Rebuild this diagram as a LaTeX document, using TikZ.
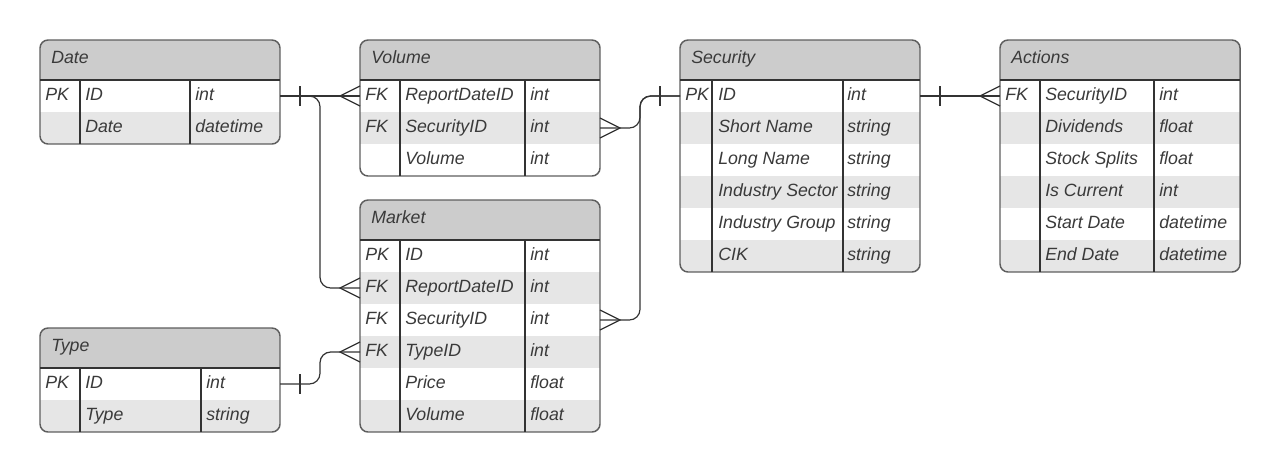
\documentclass[tikz,border=0pt]{standalone}
\usepackage{fontspec}
\setmainfont{Liberation Sans}
\usetikzlibrary{calc}

\definecolor{headfill}{HTML}{CCCCCC}
\definecolor{rowfill}{HTML}{E6E6E6}
\definecolor{boxline}{HTML}{5E5E5E}
\definecolor{inkline}{HTML}{333333}
\definecolor{inktext}{HTML}{3A3A3A}

\tikzset{
  tablebox/.style={draw=boxline, line width=1.1pt, rounded corners=6pt},
  gridline/.style={draw=inkline, line width=0.8pt},
  relation/.style={draw=inkline, line width=0.9pt},
  cell/.style={anchor=base west, inner sep=0pt, text=inktext,
    font=\fontsize{13.3}{16}\selectfont\itshape},
  title/.style={cell},
}

\begin{document}
\begin{tikzpicture}[x=0.75pt, y=-0.75pt]

\useasboundingbox (0,0) rectangle (1280,472);

% Date
\begin{scope}
  \clip[rounded corners=6pt] (40,40) rectangle (280,144);
  \fill[white] (40,40) rectangle (280,144);
  \fill[headfill] (40,40) rectangle (280,80);
  \fill[rowfill] (40,112) rectangle (280,144);
\end{scope}
\draw[tablebox] (40,40) rectangle (280,144);
\draw[gridline] (40,80) -- (280,80) (80,80) -- (80,144) (190,80) -- (190,144);
\node[title] (date) at (51,63.5) {Date};
\foreach \k/\f/\t [count=\i] in {PK/ID/int, /Date/datetime} {
  \node[cell] (date-key-\i) at (45,{68.5+32*\i}) {\k};
  \node[cell] (date-field-\i) at (85,{68.5+32*\i}) {\f};
  \node[cell] (date-type-\i) at (195,{68.5+32*\i}) {\t};
  \coordinate (date-w-\i) at (40,{64+32*\i});
  \coordinate (date-e-\i) at (280,{64+32*\i});
}

% Volume
\begin{scope}
  \clip[rounded corners=6pt] (360,40) rectangle (600,176);
  \fill[white] (360,40) rectangle (600,176);
  \fill[headfill] (360,40) rectangle (600,80);
  \fill[rowfill] (360,112) rectangle (600,144);
\end{scope}
\draw[tablebox] (360,40) rectangle (600,176);
\draw[gridline] (360,80) -- (600,80) (400,80) -- (400,176) (525,80) -- (525,176);
\node[title] (volume) at (371,63.5) {Volume};
\foreach \k/\f/\t [count=\i] in {FK/ReportDateID/int, FK/SecurityID/int, /Volume/int} {
  \node[cell] (volume-key-\i) at (365,{68.5+32*\i}) {\k};
  \node[cell] (volume-field-\i) at (405,{68.5+32*\i}) {\f};
  \node[cell] (volume-type-\i) at (530,{68.5+32*\i}) {\t};
  \coordinate (volume-w-\i) at (360,{64+32*\i});
  \coordinate (volume-e-\i) at (600,{64+32*\i});
}

% Security
\begin{scope}
  \clip[rounded corners=6pt] (680,40) rectangle (920,272);
  \fill[white] (680,40) rectangle (920,272);
  \fill[headfill] (680,40) rectangle (920,80);
  \foreach \y in {112,176,240} \fill[rowfill] (680,\y) rectangle ++(240,32);
\end{scope}
\draw[tablebox] (680,40) rectangle (920,272);
\draw[gridline] (680,80) -- (920,80) (712,80) -- (712,272) (843,80) -- (843,272);
\node[title] (security) at (691,63.5) {Security};
\foreach \k/\f/\t [count=\i] in {PK/ID/int, /Short Name/string, /Long Name/string,
    /Industry Sector/string, /Industry Group/string, /CIK/string} {
  \node[cell] (security-key-\i) at (685,{68.5+32*\i}) {\k};
  \node[cell] (security-field-\i) at (718,{68.5+32*\i}) {\f};
  \node[cell] (security-type-\i) at (847,{68.5+32*\i}) {\t};
  \coordinate (security-w-\i) at (680,{64+32*\i});
  \coordinate (security-e-\i) at (920,{64+32*\i});
}

% Actions
\begin{scope}
  \clip[rounded corners=6pt] (1000,40) rectangle (1240,272);
  \fill[white] (1000,40) rectangle (1240,272);
  \fill[headfill] (1000,40) rectangle (1240,80);
  \foreach \y in {112,176,240} \fill[rowfill] (1000,\y) rectangle ++(240,32);
\end{scope}
\draw[tablebox] (1000,40) rectangle (1240,272);
\draw[gridline] (1000,80) -- (1240,80) (1040,80) -- (1040,272) (1154,80) -- (1154,272);
\node[title] (actions) at (1011,63.5) {Actions};
\foreach \k/\f/\t [count=\i] in {FK/SecurityID/int, /Dividends/float, /Stock Splits/float,
    /Is Current/int, /Start Date/datetime, /End Date/datetime} {
  \node[cell] (actions-key-\i) at (1005,{68.5+32*\i}) {\k};
  \node[cell] (actions-field-\i) at (1045,{68.5+32*\i}) {\f};
  \node[cell] (actions-type-\i) at (1159,{68.5+32*\i}) {\t};
  \coordinate (actions-w-\i) at (1000,{64+32*\i});
  \coordinate (actions-e-\i) at (1240,{64+32*\i});
}

% Market
\begin{scope}
  \clip[rounded corners=6pt] (360,200) rectangle (600,432);
  \fill[white] (360,200) rectangle (600,432);
  \fill[headfill] (360,200) rectangle (600,240);
  \foreach \y in {272,336,400} \fill[rowfill] (360,\y) rectangle ++(240,32);
\end{scope}
\draw[tablebox] (360,200) rectangle (600,432);
\draw[gridline] (360,240) -- (600,240) (400,240) -- (400,432) (525,240) -- (525,432);
\node[title] (market) at (371,223.5) {Market};
\foreach \k/\f/\t [count=\i] in {PK/ID/int, FK/ReportDateID/int, FK/SecurityID/int,
    FK/TypeID/int, /Price/float, /Volume/float} {
  \node[cell] (market-key-\i) at (365,{228.5+32*\i}) {\k};
  \node[cell] (market-field-\i) at (405,{228.5+32*\i}) {\f};
  \node[cell] (market-type-\i) at (530,{228.5+32*\i}) {\t};
  \coordinate (market-w-\i) at (360,{224+32*\i});
  \coordinate (market-e-\i) at (600,{224+32*\i});
}

% Type
\begin{scope}
  \clip[rounded corners=6pt] (40,328) rectangle (280,432);
  \fill[white] (40,328) rectangle (280,432);
  \fill[headfill] (40,328) rectangle (280,368);
  \fill[rowfill] (40,400) rectangle (280,432);
\end{scope}
\draw[tablebox] (40,328) rectangle (280,432);
\draw[gridline] (40,368) -- (280,368) (80,368) -- (80,432) (201,368) -- (201,432);
\node[title] (type) at (51,351.5) {Type};
\foreach \k/\f/\t [count=\i] in {PK/ID/int, /Type/string} {
  \node[cell] (type-key-\i) at (45,{356.5+32*\i}) {\k};
  \node[cell] (type-field-\i) at (85,{356.5+32*\i}) {\f};
  \node[cell] (type-type-\i) at (206,{356.5+32*\i}) {\t};
  \coordinate (type-w-\i) at (40,{352+32*\i});
  \coordinate (type-e-\i) at (280,{352+32*\i});
}

% Relations
\draw[relation] (date-e-1) -- (volume-w-1);
\draw[relation, rounded corners=8] (date-e-1) -| ($(market-w-2)+(-40,0)$) -- (market-w-2);
\draw[relation, rounded corners=8] (volume-e-2) -| ($(security-w-1)+(-40,0)$) -- (security-w-1);
\draw[relation, rounded corners=8] (market-e-3) -| ($(security-w-1)+(-40,0)$) -- (security-w-1);
\draw[relation] (security-e-1) -- (actions-w-1);
\draw[relation, rounded corners=8] (type-e-1) -| ($(market-w-4)+(-40,0)$) -- (market-w-4);

% One ends
\draw[relation] (date-e-1) ++(20,-10) -- ++(0,20);
\draw[relation] (security-w-1) ++(-20,-10) -- ++(0,20);
\draw[relation] (security-e-1) ++(20,-10) -- ++(0,20);
\draw[relation] (type-e-1) ++(20,-10) -- ++(0,20);

% Many ends
\draw[relation] (volume-w-1) ++(0,-10) -- ++(-20,10) -- ++(20,10);
\draw[relation] (market-w-2) ++(0,-10) -- ++(-20,10) -- ++(20,10);
\draw[relation] (market-w-4) ++(0,-10) -- ++(-20,10) -- ++(20,10);
\draw[relation] (actions-w-1) ++(0,-10) -- ++(-20,10) -- ++(20,10);
\draw[relation] (volume-e-2) ++(0,-10) -- ++(20,10) -- ++(-20,10);
\draw[relation] (market-e-3) ++(0,-10) -- ++(20,10) -- ++(-20,10);

\end{tikzpicture}
\end{document}
